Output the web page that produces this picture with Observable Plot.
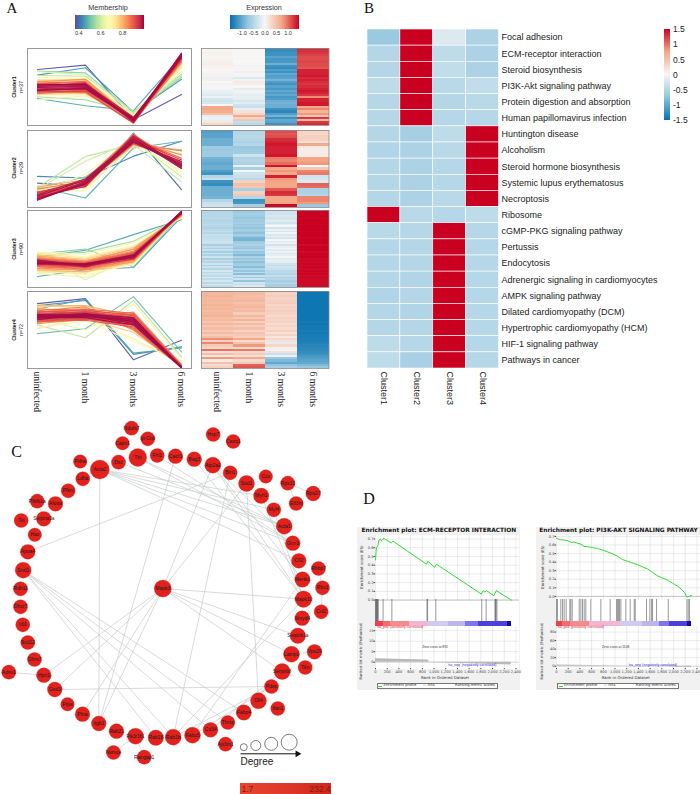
<!DOCTYPE html>
<html><head><meta charset="utf-8">
<script src="https://cdn.jsdelivr.net/npm/d3@7"></script>
<script src="https://cdn.jsdelivr.net/npm/@observablehq/plot@0.6"></script>
<style>
html,body{margin:0;padding:0;background:#fff}
#root{position:relative;width:700px;height:794px;overflow:hidden;font-family:"Liberation Sans",Arial,sans-serif}
.t{position:absolute;white-space:nowrap;line-height:1;transform:translate(-50%,-50%)}
</style></head><body><div id="root"></div>
<script>
// ---------- Panel A data: [membership, uninfected, 1 month, 3 months, 6 months]
const months=["uninfected","1 month","3 months","6 months"];
const cluster1Lines=[
[.38,.68,.85,-1.28,-.29],[.45,.46,.75,-.98,.3],[.47,-.45,-.73,-.92,1.2],[.53,.62,.55,-1,.38],[.56,-.38,-.5,-.98,.5],
[.58,.45,.42,-.95,.45],[.62,.6,.48,-1.06,.6],[.64,-.5,-.35,-1.05,.72],[.68,.38,.33,-1.12,.78],[.7,-.3,-.32,-1.1,.85],
[.74,.28,.3,-1.18,.82],[.76,.25,.3,-1.2,.9],[.78,-.28,-.25,-1.3,1],[.8,.22,.28,-1.25,.95],[.82,-.22,-.2,-1.42,1.05],
[.84,.2,.3,-1.3,1.1],[.86,-.18,-.22,-1.38,.95],[.88,.15,.22,-1.3,1.2],[.89,-.25,-.15,-1.32,1.08],[.9,.12,.18,-1.36,1.12],
[.91,-.2,-.12,-1.25,1.02],[.92,.08,.12,-1.28,1.25],[.93,-.15,-.18,-1.4,1.3],[.93,.05,.05,-1.2,1.15],[.94,-.12,-.08,-1.3,1.18],
[.95,.02,.15,-1.34,1.1],[.95,-.08,-.02,-1.22,1.28],[.96,.1,.08,-1.38,1.22],[.96,-.05,-.1,-1.26,1.2],[.97,.0,.03,-1.32,1.32],
[.97,.06,.12,-1.18,1.16],[.98,-.1,-.05,-1.28,1.24],[.98,.03,.06,-1.36,1.3],[.99,-.02,.0,-1.24,1.26],[.99,.08,.1,-1.3,1.14],[.99,-.14,-.06,-1.22,1.2]];
const cluster2Lines=[
[.39,-.55,-.68,1.4,-.8],[.43,-.29,-.35,.5,1.08],[.48,-.7,-1.13,.82,1.08],[.52,-.75,-.3,.9,.75],[.58,-.72,.49,.95,-.5],
[.6,-.8,.3,1.1,-.3],[.66,-.85,-.85,1,-.1],[.68,-.92,-.2,1.2,-.2],[.72,-.65,-.75,.88,.6],[.76,-.82,-.5,1.25,.4],
[.8,-.95,-.55,.92,.72],[.82,-.7,-.42,1.36,.1],[.84,-1.05,-.6,1.1,.55],[.86,-.78,-.48,1.02,.7],[.88,-1,-.65,1.3,.22],
[.89,-.88,-.7,1.18,.42],[.9,-1.1,-.4,1.28,.05],[.91,-.95,-.58,.98,.3],[.92,-1.15,-.5,1.2,.15],[.93,-1.02,-.62,1.34,.02],
[.94,-.92,-.45,1.08,.25],[.95,-1.18,-.55,1.16,.35],[.96,-1.08,-.68,1.24,.12],[.97,-1.2,-.48,1.02,.28],[.97,-1,-.38,1.12,.18],
[.98,-1.12,-.6,1.28,.08],[.98,-1.22,-.52,1.1,.2],[.99,-1.05,-.44,1.18,.02],[.99,-1.16,-.58,1.06,.14]];
const cluster3Lines=[
[.46,-1.07,-.81,-.72,1.25],[.47,-.31,-.05,.56,1.14],[.52,-.2,0,-.7,1.35],[.55,-.3,-.12,.3,1.25],[.62,-.18,-1.2,-.3,1.4],
[.64,-.95,-1.1,-.5,1.35],[.66,-.12,-.2,.25,1.2],[.68,-.75,-1,-.6,1.4],[.7,-.15,-.3,.12,1.25],[.72,-.9,-.95,-.1,1.3],
[.74,-.18,-.35,.08,1.3],[.76,-.85,-.9,-.55,1.42],[.78,-.25,-.4,.05,1.28],[.8,-.82,-.88,-.48,1.38],[.82,-.28,-.45,-.02,1.32],
[.83,-.78,-.82,-.5,1.42],[.84,-.32,-.48,.0,1.35],[.85,-.75,-.8,-.45,1.4],[.86,-.35,-.5,-.08,1.3],[.87,-.7,-.78,-.42,1.44],
[.88,-.38,-.52,-.12,1.36],[.89,-.68,-.75,-.38,1.42],[.9,-.4,-.55,-.15,1.34],[.9,-.65,-.72,-.35,1.46],[.91,-.42,-.58,-.18,1.38],
[.91,-.62,-.7,-.32,1.4],[.92,-.44,-.6,-.2,1.42],[.92,-.6,-.68,-.3,1.36],[.93,-.46,-.62,-.22,1.44],[.93,-.58,-.66,-.28,1.38],
[.94,-.48,-.64,-.24,1.42],[.94,-.56,-.6,-.34,1.46],[.95,-.5,-.58,-.26,1.4],[.95,-.54,-.66,-.4,1.44],[.96,-.45,-.62,-.3,1.38],
[.96,-.52,-.7,-.22,1.42],[.97,-.6,-.56,-.36,1.46],[.97,-.48,-.6,-.28,1.4],[.98,-.55,-.64,-.32,1.44],[.98,-.42,-.68,-.26,1.42],
[.99,-.5,-.62,-.3,1.46],[.99,-.56,-.58,-.24,1.4]];
const cluster4Lines=[
[.38,1.03,1.22,-1.16,-.4],[.44,.95,1.15,-.95,-.66],[.46,.82,1.2,-.9,-.7],[.5,-.14,.05,1.3,-.85],[.58,.2,-.3,1.15,-1.05],
[.64,.45,.0,1,-1.1],[.68,.1,.35,-.45,-1.2],[.72,.05,.5,-.35,-1.3],[.74,.98,.85,.25,-1.3],[.76,.9,.95,.2,-1.3],
[.78,.3,.45,-.1,-1.35],[.8,.95,.95,.55,-1.38],[.82,.85,.6,.05,-1.4],[.84,.25,.42,.62,-1.4],[.85,.75,.9,.05,-1.42],
[.86,.35,.4,.7,-1.35],[.87,.7,.8,.0,-1.44],[.88,.3,.5,.08,-1.46],[.89,.78,.82,.65,-1.42],[.9,.32,.38,.12,-1.4],
[.9,.72,.75,.6,-1.44],[.91,.35,.42,.18,-1.46],[.91,.68,.78,.55,-1.38],[.92,.38,.45,.22,-1.42],[.92,.65,.72,.5,-1.46],
[.93,.4,.48,.28,-1.44],[.93,.62,.7,.46,-1.4],[.94,.42,.5,.32,-1.46],[.94,.6,.68,.42,-1.44],[.95,.44,.52,.35,-1.42],
[.95,.58,.65,.4,-1.46],[.96,.46,.55,.3,-1.44],[.96,.56,.62,.38,-1.48],[.97,.48,.58,.34,-1.46],[.97,.54,.6,.44,-1.44],
[.98,.5,.56,.36,-1.46],[.98,.52,.64,.4,-1.48],[.99,.46,.6,.32,-1.46],[.99,.55,.52,.42,-1.44],[.99,.6,.58,.25,-1.46],[.99,.4,.62,.48,-1.48],[.99,.5,.48,.2,-1.46]];
// ---------- Panel A heat map rows: uninfected, 1 month, 3 months, 6 months
const cluster1Rows=[
[.03,.02,-1.25,1.3],[.04,.02,-1.25,1.28],[.06,.03,-1.2,1.25],[.05,.02,-1.2,1.2],[.03,0,-1.05,1.15],[.04,.03,-1.15,1.15],[.07,0,-1.15,1.18],
[.08,.02,-.95,1.15],[.06,-.06,-1.2,1.15],[.04,.02,-1.25,1.1],[0,-.04,-1.1,1.35],[.02,.08,-1.2,1.35],[.06,-.02,-1,1.35],[-.06,-.04,-1.1,1.4],
[-.1,-.2,-1.05,1.3],[.08,-.06,-.9,1.35],[0,.12,-1.1,1.3],[-.06,.1,-1.2,1.25],[.03,0,-1.05,1.3],[-.04,-.15,-1.15,1.35],[-.1,.06,-1,1.4],
[-.15,-.08,-1.1,1.35],[-.2,-.15,-1,1.25],[-.08,-.12,-1.15,.85],[-.25,-.15,-1.1,1.35],[-.3,-.25,-.95,1.35],[-.25,-.15,-.9,1.4],[0,-.3,-.95,1.4],
[.7,-.35,-.95,.7],[.72,-.12,-1.2,.9],[.68,.2,-1.3,.6],[.5,.3,-1.1,.8],[-.15,.7,-.9,.45],[-.08,.3,-1.2,1.25],[-.12,.45,-1,.55],[.15,-.4,-1.05,1.25],[.3,-.45,-1.2,1.3]];
const cluster2Rows=[
[-1.1,-.5,1.15,.3],[-1.05,-.5,1.1,.3],[-1.05,-.45,1.15,.35],[-.95,-.5,1.3,.35],[-.95,-.55,1.35,.2],[-.95,-.5,1.4,.7],[-.65,-.7,1.35,.12],
[-.7,-.65,1.35,.1],[-.65,-.65,1.35,.1],[-.65,-.3,1.4,.1],[-.9,-.55,.95,.75],[-.95,-.5,.9,.75],[-1,-.55,1,.8],[-.95,-.1,1.4,0],
[-.95,-.6,.7,.45],[-1.1,.0,.8,.9],[-1.2,-.3,.7,.95],[-.5,-.35,1.35,-.3],[-.35,-.45,.8,-.25],[-1.2,.35,.75,-.2],[-1.25,.5,.7,1.05],
[-.95,.45,.75,1],[-.95,-.6,1.1,-.55],[-.95,.35,1.3,-.55],[-.95,.45,1.25,-.5],[-.9,-.5,.7,.9],[-.5,-1.2,.7,.9],[-.35,-1.15,.75,.8],[-.3,-.6,1.45,-.7]];
const cluster3Rows=[
[-.5,-.65,-.3,1.5],[-.52,-.68,-.28,1.5],[-.48,-.6,-.3,1.5],[-.5,-.65,-.22,1.5],[-.45,-.72,-.3,1.48],[-.5,-.62,-.25,1.5],
[-.52,-.66,-.18,1.5],[-.48,-.6,-.3,1.5],[-.42,-.7,-.15,1.48],[-.5,-.64,.0,1.5],[-.55,-.75,-.28,1.5],[-.45,-.62,-.1,1.5],
[-.4,-.66,-.25,1.48],[-.48,-.78,-.03,1.5],[-.35,-.6,-.22,1.5],[-.42,-.72,-.12,1.5],[-.38,-.88,-.25,1.48],[-.35,-.9,-.02,1.5],
[-.3,-.65,-.15,1.5],[-.35,-.6,-.05,1.5],[-.6,-.55,-.28,1.45],[-.4,-.66,-.12,1.5],[-.58,-.75,-.03,1.48],[-.35,-.52,-.18,1.5],
[-.62,-.72,-.08,1.45],[-.32,-.64,-.22,1.5],[-.55,-.85,-.12,1.48],[-.3,-.55,-.04,1.5],[-.6,-.7,-.18,1.45],[-.35,-.56,-.08,1.48],
[-.52,-.78,-.14,1.45],[-.28,-.64,-.32,1.48],[-.55,-.58,-.38,1.45],[-.32,-.82,-.3,1.48],[-.5,-.52,-.34,1.45],[-.25,-.72,-.45,1.48],
[-.46,-.42,-.42,1.45],[-.3,-.8,-.52,1.48],[-.44,-.34,-.38,1.45],[-.2,-.66,-.55,1.48],[-.42,-.3,-.48,1.45],[-.25,-.75,-.6,1.45],
[-.46,-.25,-.52,1.45],[-.22,-.4,-.58,1.45],[-.4,-.2,-.62,1.45]];
const cluster4Rows=[
[.6,.55,.35,-1.45],[.58,.55,.33,-1.45],[.62,.52,.38,-1.45],[.58,.54,.32,-1.45],[.6,.58,.35,-1.45],[.56,.48,.38,-1.45],[.62,.54,.3,-1.45],
[.57,.6,.35,-1.45],[.6,.5,.32,-1.45],[.53,.56,.38,-1.45],[.58,.38,.34,-1.45],[.62,.58,.25,-1.45],[.52,.42,.35,-1.45],[.56,.62,.3,-1.45],
[.46,.36,.34,-1.42],[.58,.56,.24,-1.45],[.44,.38,.32,-1.42],[.54,.52,.26,-1.42],[.42,.32,.36,-1.4],[.56,.48,.2,-1.42],[.38,.42,.34,-1.4],
[.52,.36,.15,-1.4],[.85,.72,.28,-1.38],[.35,.25,.2,-1.38],[.88,.48,-.15,-1.35],[.42,.8,.3,-1.32],[.28,.25,.08,-1.3],[.98,.95,-.05,-1.28],
[.2,.3,.2,-1.25],[.52,.38,-.35,-1.22],[.15,.22,-.1,-1.15],[.8,.7,-.7,-1.1],[.12,.25,-.85,-1.05],[.48,.42,-1.0,-1],[.25,1.05,-.75,-.85],[.35,1.1,-.6,-.7]];
const clusterNames=[["Cluster1","n=37"],["Cluster2","n=29"],["Cluster3","n=90"],["Cluster4","n=72"]];
// ---------- Panel B data
const pathways=["Focal adhesion","ECM-receptor interaction","Steroid biosynthesis","PI3K-Akt signaling pathway","Protein digestion and absorption","Human papillomavirus infection","Huntington disease","Alcoholism","Steroid hormone biosynthesis","Systemic lupus erythematosus","Necroptosis","Ribosome","cGMP-PKG signaling pathway","Pertussis","Endocytosis","Adrenergic signaling in cardiomyocytes","AMPK signaling pathway","Dilated cardiomyopathy (DCM)","Hypertrophic cardiomyopathy (HCM)","HIF-1 signaling pathway","Pathways in cancer"];
const pathClusters=["Cluster1","Cluster2","Cluster3","Cluster4"];
const pathC1=[-.68,-.5,-.5,-.42,-.48,-.48,-.5,-.52,-.5,-.5,-.5,1.5,-.45,-.5,-.5,-.5,-.52,-.5,-.5,-.42,-.42];
const pathC2=[1.5,1.5,1.5,1.5,1.5,1.5,-.6,-.55,-.55,-.55,-.55,-.45,-.48,-.5,-.5,-.52,-.5,-.52,-.5,-.48,-.58];
const pathC3=[-.2,-.42,-.4,-.45,-.5,-.48,-.42,-.45,-.48,-.48,-.45,-.48,1.5,1.5,1.5,1.5,1.5,1.5,1.5,1.5,1.5];
const pathC4=[-.55,-.55,-.55,-.4,-.45,-.48,1.5,1.5,1.5,1.5,1.5,-.42,-.48,-.48,-.48,-.48,-.48,-.48,-.48,-.48,-.48];
// ---------- Panel C data
const nodeNames=["Acta2","Dsc","Ttn","Fhl1","Cacr1","Bag3","Atp2a2","Bin1","Sod1","Myh1","Myl4","Acta1","Gnn3","Cfl2","Mertk1","Mapk10","Smyd4","Serpinb1a","Lamp1","Serpinb8","Pdap","Dll4","Fabp4","Thrsp","Cd34","Fabp5","Rab1b","Rab18","Pik3r1b1","Rab21","Itgb1","Pfna","Ptpa","Gstt3","Hprt1","Dhrs7","Scd12","Idi1","Dhcr7","Rdh11","Snd1","Apoa4","Hao","Tst","Serpina3a","Pfkfb1a","Aldoa","Pfkm","Ldha","Pdha","Capn1","Ip-Cnb","Ndufs7","Hsp7","Casq1","Ccs","Rps10","Rps27","Eif3m","Rbbp7","Rbx1","Cul2","Vps29","Tkn","Ifan1","Ap3m1","Rangap1","Nsmce","Adss1","Mapk3"];
const nodeX=[99.3,118,137.3,156.7,175,193.7,212.3,229.7,246,260.7,273.3,283.7,292.3,298.3,302,303,301.7,297.3,291,281.7,271,258,243.3,227.3,210,192,172.7,155.3,135,116,98.3,82,67,54.3,43.3,34,27.3,22.3,20,20,22.7,27.3,34.3,20.7,43.3,36.7,55,67.7,82.3,79.7,122,147.3,131,212.7,232.7,265.3,287.3,312.7,295.7,318,322,320.7,314,304.7,277.3,225,143.7,113,8.3,162.3];
const nodeY=[469,461.7,457,455,455.7,458.7,464.7,472.3,483,495.3,509.3,525.7,542.7,560.3,579,598.7,617.7,635.3,653.7,671,686,700.3,712,722,729.3,734.7,736.7,737.3,735.7,730.7,723,713.7,703.7,689,674.7,659,642,624.3,606.3,588.3,569.7,551.3,534.3,520,518.3,500.7,503.3,490.3,478.3,461,442.7,438.3,427.7,434,441,476,482.7,493,503,568,587.3,611.3,651.3,667,708,743.7,756.7,752,671.7,588];
const nodeDegree=[10,6,9,6,6.5,6.5,7.5,6,7.5,7,6,7.5,6.5,6.5,7,8,6.5,7,7.5,7.5,6,7.5,7,6,6.5,7.5,7.5,7,7.5,6.5,6.5,6.5,5.5,6.5,6.5,6,6,6,6,6,7.5,6.5,5.5,6,6.5,6,6.5,6,6,5.5,5.5,6,6,6,6,5.5,6,6.5,6,6,6,6,6.5,6,6,6,6,6,6,8.5];
const edgeList=[["Acta2","Acta1"],["Acta2","Myh1"],["Acta2","Myl4"],["Acta2","Gnn3"],["Acta2","Cfl2"],["Acta2","Itgb1"],["Dsc","Acta1"],["Ttn","Acta1"],["Ttn","Gnn3"],["Fhl1","Gnn3"],["Bag3","Mapk10"],["Atp2a2","Gnn3"],["Atp2a2","Mapk10"],["Cacr1","Itgb1"],["Atp2a2","Mapk3"],["Bin1","Rab1b"],["Sod1","Mapk3"],["Apoa4","Bin1"],["Sod1","Dll4"],["Snd1","Rab18"],["Snd1","Rab1b"],["Snd1","Cd34"],["Snd1","Thrsp"],["Snd1","Fabp4"],["Mapk3","Hprt1"],["Mapk3","Gstt3"],["Mapk3","Pfna"],["Mapk3","Itgb1"],["Mapk3","Mapk10"],["Mapk3","Serpinb1a"],["Mapk3","Lamp1"],["Mapk3","Serpinb8"],["Gstt3","Pdap"],["Rab1b","Pdap"],["Fabp5","Pdap"],["Cd34","Serpinb8"],["Fabp5","Mertk1"],["Rab1b","Mapk10"],["Mapk10","Myl4"],["Mapk10","Myh1"],["Mertk1","Atp2a2"],["Adss1","Hprt1"],["Vps29","Lamp1"],["Rps10","Rps27"],["Rps10","Eif3m"],["Rbbp7","Rbx1"],["Rbx1","Cul2"],["Nsmce","Pik3r1b1"],["Rangap1","Pik3r1b1"],["Tst","Pfkfb1a"],["Serpina3a","Pfkfb1a"]];
const legendDegree=[0,2.5,5,7.5];
const legendX=[243.3,255.3,270.7,288.7];
const legendY=[746.7,745,743.3,741.7];
// ---------- Panel D data
const gseaTicks=[0,200,400,600,800,1000,1200,1400,1600,1800,2000,2200,2400];
const stripColors=["#f04050","#f56a70","#f58a8f","#f4b5d5","#d0cbf2","#bcb6ee","#7f76ea","#4c3fdd","#150c96"];
const ecmTitle="Enrichment plot: ECM-RECEPTOR INTERACTION";
const ecmRank=[0,15,40,60,85,100,120,142,160,268,300,872,895,1008,1043,1806,1840,1870,1897,2023,2063,2319];
const ecmES=[.46,.6,.62,.69,.7,.68,.69,.71,.7,.655,.675,.41,.445,.375,.41,.07,.108,.09,.108,.05,.108,0];
const ecmHits=[0,8,15,22,30,38,46,130,280,880,890,1030,1815,1890,2040,2050,2060,2075];
const ecmStrip=[0,142,256,587,912,1254,1538,1766,2251,2319];
const ecmMetricRank=[0,880,912,912,2319];
const ecmMetric=[1.6,1,.9,-.1,-1.3];
const pi3kTitle="Enrichment plot: PI3K-AKT SIGNALING PATHWAY";
const pi3kRank=[0,60,120,188,250,302,360,416,470,530,620,700,790,872,960,1043,1130,1214,1300,1385,1470,1556,1640,1726,1810,1897,1980,2068,2130,2182,2228,2270,2307];
const pi3kES=[.68,.66,.66,.65,.63,.635,.62,.61,.585,.58,.57,.56,.54,.52,.495,.47,.43,.41,.39,.37,.345,.32,.28,.24,.215,.19,.155,.12,.085,.05,-.01,0,.01];
const pi3kHits=[0,17,74,103,131,165,228,245,268,388,416,444,473,501,587,758,917,1026,1043,1060,1077,1100,1185,1259,1328,1345,1538,1595,1624,1641,1709,1909,2228,2251,2273];
const pi3kStrip=[0,100,245,558,1100,1470,1755,1926,2239,2307];
const pi3kMetricRank=[0,600,1100,1800,2307];
const pi3kMetric=[3,1.5,.4,-1,-3];

// ---------- helpers
const root=document.getElementById("root");
const SANS='"Liberation Sans",Arial,sans-serif', SERIF='"Liberation Serif","Times New Roman",serif', DEJA='"DejaVu Sans",sans-serif';
function put(p,x,y){p.style.position="absolute";p.style.left=x+"px";p.style.top=y+"px";p.style.maxWidth="none";root.append(p);return p;}
function label(text,x,y,o={}){const d=document.createElement("div");d.className="t";d.textContent=text;d.style.left=x+"px";d.style.top=y+"px";
  d.style.fontSize=(o.size||8)+"px";d.style.fontFamily=o.font||SANS;d.style.color=o.color||"#222";if(o.bold)d.style.fontWeight="bold";
  d.style.transform=`translate(-50%,-50%) rotate(${o.rotate||0}deg)`;if(o.z)d.style.zIndex=o.z;root.append(d);return d;}
const sty=(font,size,color="#333")=>({background:"transparent",overflow:"visible",fontFamily:font,fontSize:size+"px",color});
const rdbu={type:"linear",domain:[-1.5,-.75,0,.75,1.5],range:["#0571b0","#92c5de","#f7f7f7","#f4a582","#ca0020"]};
const memb={type:"linear",domain:[.37,1],scheme:"spectral",reverse:true};

label("A",12,7.5,{font:SERIF,size:15,color:"#111"});
label("B",369,7.5,{font:SERIF,size:15,color:"#111"});
label("C",16.5,452,{font:SERIF,size:16,color:"#111"});
label("D",369,499,{font:SERIF,size:16,color:"#111"});

// ---------- colour bars of panel A
label("Membership",108,8,{size:7.2,color:"#333"});
label("Expression",264,8,{size:7.2,color:"#333"});
const mRamp=d3.range(.37,1,.005);
put(Plot.plot({width:69,height:24,marginLeft:0,marginRight:0,marginTop:0,marginBottom:10,style:sty(SANS,5.5),
  x:{domain:[.37,1],ticks:[.4,.6,.8],tickFormat:".1f",tickSize:0,tickPadding:2,label:null},color:memb,
  marks:[Plot.barX(mRamp,{x1:d=>d,x2:d=>d+.006,fill:d=>d,shapeRendering:"crispEdges"})]}),74.5,14.5);
const eRamp=d3.range(-1.5,1.5,.02);
put(Plot.plot({width:69,height:24,marginLeft:0,marginRight:0,marginTop:0,marginBottom:10,style:sty(SANS,5.5),
  x:{domain:[-1.5,1.5],ticks:[-1,-.5,0,.5,1],tickFormat:d=>d3.format(".1f")(d).replace("−","-"),tickSize:0,tickPadding:2,label:null},color:rdbu,
  marks:[Plot.barX(eRamp,{x1:d=>d,x2:d=>d+.025,fill:d=>d,shapeRendering:"crispEdges"})]}),229.5,14.5);

// ---------- line panels and heat maps of panel A
const panelTop=[48,129.5,210,291];
[cluster1Lines,cluster2Lines,cluster3Lines,cluster4Lines].forEach((rows,k)=>{
  const flat=rows.slice().sort((a,b)=>a[0]-b[0]).flatMap((r,i)=>months.map((t,j)=>({id:i,m:r[0],t,v:r[j+1]})));
  const last=k===3;
  put(Plot.plot({width:166,height:79+(last?50:0),marginLeft:1,marginRight:1,marginTop:1,marginBottom:1+(last?50:0),style:sty(SERIF,9.6,"#222"),
    x:{type:"point",domain:months,padding:.208,round:false,axis:last?"bottom":null,tickRotate:90,tickSize:0,tickPadding:3,label:null},
    y:{domain:[-1.5,1.5],axis:null},color:memb,
    marks:[Plot.line(flat,{x:"t",y:"v",z:"id",stroke:"m",strokeWidth:1.15,strokeOpacity:.95}),
           Plot.frame({stroke:"#999",strokeWidth:1})]}),26,panelTop[k]-1);
  label(clusterNames[k][0],15,panelTop[k]+38.5,{size:5.4,bold:true,rotate:-90});
  label(clusterNames[k][1],21.5,panelTop[k]+38.5,{size:5.4,rotate:-90});
});
[cluster1Rows,cluster2Rows,cluster3Rows,cluster4Rows].forEach((rows,k)=>{
  const flat=rows.flatMap((r,i)=>months.map((t,j)=>({i,t,v:r[j]})));
  const last=k===3;
  put(Plot.plot({width:129.5,height:79+(last?50:0),marginLeft:1,marginRight:1,marginTop:1,marginBottom:1+(last?50:0),style:sty(SERIF,9.6,"#222"),
    x:{type:"band",domain:months,padding:0,round:false,axis:last?"bottom":null,tickRotate:90,tickSize:0,tickPadding:3,label:null},
    y:{type:"band",domain:d3.range(rows.length),padding:0,round:false,axis:null},color:rdbu,
    marks:[Plot.cell(flat,{x:"t",y:"i",fill:"v",shapeRendering:"crispEdges"}),
           Plot.frame({stroke:"#888",strokeWidth:.8})]}),199.5,panelTop[k]-1);
});

// ---------- Panel B
const pathFlat=pathways.flatMap((p,i)=>[pathC1,pathC2,pathC3,pathC4].map((c,j)=>({p,c:pathClusters[j],v:c[i]})));
put(Plot.plot({width:300,height:339+40,marginLeft:0,marginRight:168.5,marginTop:0,marginBottom:40,style:sty(SANS,9,"#222"),
  x:{type:"band",domain:pathClusters,padding:0,round:false,tickRotate:90,tickSize:0,tickPadding:3,label:null},
  y:{type:"band",domain:pathways,padding:0,round:false,axis:"right",tickSize:0,tickPadding:2.5,label:null},color:rdbu,
  marks:[Plot.cell(pathFlat,{x:"c",y:"p",fill:"v",stroke:"#fff",strokeWidth:.6})]}),367.3,29.3);
const bRamp=d3.range(-1.5,1.5,.02);
put(Plot.plot({width:30,height:91,marginLeft:0,marginRight:24,marginTop:0,marginBottom:0,style:sty(SANS,8.5,"#222"),
  y:{domain:[-1.5,1.5],axis:"right",ticks:[-1.5,-1,-.5,0,.5,1,1.5],tickFormat:d=>String(d),tickSize:0,tickPadding:2.5,label:null},color:rdbu,
  marks:[Plot.barY(bRamp,{y1:d=>d,y2:d=>d+.025,fill:d=>d,shapeRendering:"crispEdges"})]}),664,29);

// ---------- Panel C
const nodes=nodeNames.map((name,i)=>({name,x:nodeX[i],y:nodeY[i],d:nodeDegree[i]}));
const byName=new Map(nodes.map(n=>[n.name,n]));
const edges=edgeList.map(([a,b])=>({a:byName.get(a),b:byName.get(b)}));
const legendDots=legendDegree.map((d,i)=>({d,x:legendX[i],y:legendY[i]}));
put(Plot.plot({width:345,height:384,margin:0,style:sty(SANS,5,"#222"),
  x:{domain:[0,345],axis:null},y:{domain:[410,794],reverse:true,axis:null},r:{type:"linear",domain:[0,10],range:[3.5,9.5]},
  marks:[
    Plot.link(edges,{x1:d=>d.a.x,y1:d=>d.a.y,x2:d=>d.b.x,y2:d=>d.b.y,stroke:"#c9cccc",strokeWidth:.7}),
    Plot.dot(nodes,{x:"x",y:"y",r:"d",fill:"#e2211d",stroke:"#d01c18",strokeWidth:.3}),
    Plot.text(nodes,{x:"x",y:"y",text:"name",fontSize:d=>d.name.length>7?4.6:5,fill:"#1a1a1a",fontFamily:SANS}),
    Plot.dot(legendDots,{x:"x",y:"y",r:"d",stroke:"#444",strokeWidth:.7,fill:"none"}),
    Plot.link([{a:240,b:297,y:753.3}],{x1:"a",x2:"b",y1:"y",y2:"y",stroke:"#111",strokeWidth:1}),
    Plot.dot([{x:297,y:753.3}],{x:"x",y:"y",symbol:"triangle2",rotate:90,r:3.2,fill:"#111",stroke:"none"}),
    Plot.text(["Degree"],{x:[240],y:[761],textAnchor:"start",fontSize:10,fontFamily:SANS,fill:"#222"})
  ]}),0,410);
const barRamp=d3.range(1.7,232.4,2.5);
put(Plot.plot({width:90,height:11,margin:0,style:sty(SANS,8.5),
  x:{domain:[1.7,232.4],axis:null},color:{type:"linear",domain:[1.7,100,232.4],range:["#e8452d","#e0392a","#d3261c"]},
  marks:[Plot.barX(barRamp,{x1:d=>d,x2:d=>d+3,fill:d=>d,shapeRendering:"crispEdges"}),
         Plot.text([1.7],{x:d=>d,dx:1,textAnchor:"start",text:d=>"1.7",fontSize:8.5,fill:"#7a1f14"}),
         Plot.text([232.4],{x:d=>d,textAnchor:"end",text:d=>"232.4",fontSize:8.5,fill:"#7a1f14"})]}),240,782.5);

// ---------- Panel D
function gsea(o){
  const bg=document.createElement("div");
  Object.assign(bg.style,{position:"absolute",left:o.bg[0]+"px",top:"527px",width:(o.bg[1]-o.bg[0])+"px",height:"163px",background:"#f1f1f1"});root.append(bg);
  const sheet=document.createElement("div");
  Object.assign(sheet.style,{position:"absolute",left:o.x0+"px",top:"534.5px",width:"144px",height:"134px",background:"#fff"});root.append(sheet);
  label(o.title,(o.bg[0]+o.bg[1])/2+.5,530.5,{font:DEJA,size:o.titleSize,bold:true,color:"#111"});
  const xs={domain:[0,2460]};
  const es=o.rank.map((r,i)=>({r,v:o.es[i]}));
  put(Plot.plot({width:157,height:65,marginLeft:13,marginRight:0,marginTop:0,marginBottom:0,style:sty(DEJA,3.6,"#444"),
    x:{...xs,axis:null,grid:true,ticks:gseaTicks},
    y:{domain:o.esDomain,grid:true,ticks:[0,.1,.2,.3,.4,.5,.6,.7],tickFormat:".1f",tickSize:1.5,tickPadding:.5,label:null},
    marks:[Plot.ruleY([0],{stroke:"#999",strokeWidth:.5}),Plot.line(es,{x:"r",y:"v",stroke:"#33dd33",strokeWidth:1})]}),o.x0-13,534.5);
  label("Enrichment score (ES)",o.x0-13,567,{font:DEJA,size:3.9,rotate:-90,color:"#333"});
  put(Plot.plot({width:144,height:22,margin:0,style:sty(DEJA,4),x:{...xs,axis:null},
    marks:[Plot.ruleX(o.hits,{stroke:"#555",strokeWidth:.6})]}),o.x0,599.3);
  const strip=o.strip.slice(0,-1).map((a,i)=>({a,b:o.strip[i+1],c:stripColors[i]}));
  put(Plot.plot({width:144,height:5,margin:0,style:sty(DEJA,4),x:{...xs,axis:null},
    marks:[Plot.rectX(strip,{x1:"a",x2:"b",fill:"c",shapeRendering:"crispEdges"})]}),o.x0,621);
  const met=o.mRank.map((r,i)=>({r,v:o.met[i]}));
  put(Plot.plot({width:157,height:53,marginLeft:13,marginRight:0,marginTop:0,marginBottom:11,style:sty(DEJA,3.6,"#444"),
    x:{...xs,grid:true,ticks:gseaTicks,tickFormat:",d",tickSize:1.2,tickPadding:1,label:null},
    y:{domain:o.metDomain,grid:true,ticks:o.metTicks,tickSize:1.5,tickPadding:.5,label:null},
    marks:[Plot.ruleY([0],{stroke:"#bbb",strokeWidth:.4}),Plot.areaY(met,{x:"r",y:"v",fill:"#b9b9b9"})]}),o.x0-13,626);
  label("Ranked list metric (PreRanked)",o.x0-13,651,{font:DEJA,size:3.7,rotate:-90,color:"#333"});
  label("Rank in Ordered Dataset",o.x0+70,677.8,{font:DEJA,size:3.9,color:"#333"});
  label("'na_pos' (positively correlated)",o.x0+25,628,{size:3.5,color:"#e02020"});
  label("'na_neg' (negatively correlated)",o.x0+97,665.7,{size:3.5,color:"#3030d0"});
  label(o.zero,o.x0+60,647.5,{size:3.3,color:"#333"});
  const box=document.createElement("div");
  Object.assign(box.style,{position:"absolute",left:(o.x0+1.7)+"px",top:"682.7px",width:"121.5px",height:"6.5px",border:".5px solid #777",background:"#fff",boxSizing:"border-box"});root.append(box);
  const sw=document.createElement("div");
  Object.assign(sw.style,{position:"absolute",left:(o.x0+3)+"px",top:"685.9px",width:"4px",height:".8px",background:"#33dd33"});root.append(sw);
  label("Enrichment profile",o.x0+25,686,{font:DEJA,size:3.6,color:"#333"});
  label("— Hits",o.x0+53.7,686,{font:DEJA,size:3.6,color:"#333"});
  label("Ranking metric scores",o.x0+100,686,{font:DEJA,size:3.6,color:"#333"});
}
gsea({bg:[356.7,520],x0:375,title:ecmTitle,titleSize:5.85,rank:ecmRank,es:ecmES,hits:ecmHits,strip:ecmStrip,mRank:ecmMetricRank,met:ecmMetric,
  esDomain:[-.005,.74],metDomain:[-3,17],metTicks:[0,5,10,15],zero:"Zero cross at 892"});
gsea({bg:[536,700],x0:555.7,title:pi3kTitle,titleSize:5.85,rank:pi3kRank,es:pi3kES,hits:pi3kHits,strip:pi3kStrip,mRank:pi3kMetricRank,met:pi3kMetric,
  esDomain:[-.048,.711],metDomain:[-5.4,93],metTicks:[0,20,40,60,80],zero:"Zero cross at 1108"});
</script></body></html>
